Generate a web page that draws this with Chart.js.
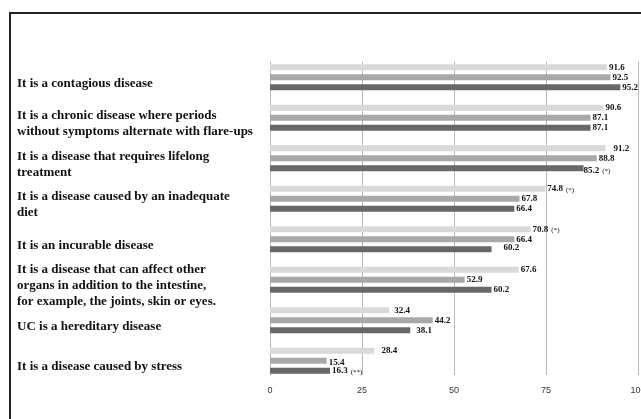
<!DOCTYPE html>
<html>
<head>
<meta charset="utf-8">
<script src="https://cdn.jsdelivr.net/npm/chart.js@4/dist/chart.umd.min.js"></script>
<style>
  html, body { margin: 0; padding: 0; background: #fff; overflow: hidden; }
  #wrap { position: relative; width: 641px; height: 419px; overflow: hidden; }
  #frame { position: absolute; left: 9px; top: 12px; width: 700px; height: 500px;
           border-left: 2px solid #222; border-top: 2px solid #222; pointer-events: none; }
  canvas { position: absolute; left: 0; top: 0; }
</style>
</head>
<body>
<div id="wrap">
  <canvas id="chart" width="660" height="419"></canvas>
  <div id="frame"></div>
</div>
<script>
const categories = [
  'It is a contagious disease',
  ['It is a chronic disease where periods', 'without symptoms alternate with flare-ups'],
  ['It is a disease that requires lifelong', 'treatment'],
  ['It is a disease caused by an inadequate', 'diet'],
  'It is an incurable disease',
  ['It is a disease that can affect other', 'organs in addition to the intestine,', 'for example, the joints, skin or eyes.'],
  'UC is a hereditary disease',
  'It is a disease caused by stress'
];

const seriesLight = [91.6, 90.6, 91.2, 74.8, 70.8, 67.6, 32.4, 28.4];
const seriesMid = [92.5, 87.1, 88.8, 67.8, 66.4, 52.9, 44.2, 15.4];
const seriesDark = [95.2, 87.1, 85.2, 66.4, 60.2, 60.2, 38.1, 16.3];

// significance marks printed after some values
const notesLight = ['', '', '', '(*)', '(*)', '', '', ''];
const notesMid = ['', '', '', '', '', '', '', ''];
const notesDark = ['', '', '(*)', '', '', '', '', '(**)'];

const xTicks = [0, 25, 50, 75, 100];

const SERIF = '"Liberation Serif", "Times New Roman", serif';

// small nudges so labels sit where the original put them
const labelNudge = {
  '0-2': [6, 0], '2-2': [-2, 2], '2-4': [10, -2], '0-6': [3, 0],
  '2-6': [4, 0], '0-7': [5, 0], '1-7': [0, 2]
};

const valueLabels = {
  id: 'valueLabels',
  afterDatasetsDraw(chart) {
    const ctx = chart.ctx;
    ctx.save();
    ctx.fillStyle = '#111';
    ctx.textBaseline = 'middle';
    chart.data.datasets.forEach((ds, di) => {
      chart.getDatasetMeta(di).data.forEach((bar, i) => {
        const nudge = labelNudge[di + '-' + i] || [0, 0];
        const x = bar.x + 2 + nudge[0];
        const y = bar.y + nudge[1];
        ctx.font = 'bold 9px ' + SERIF;
        ctx.textAlign = 'left';
        const txt = ds.data[i].toFixed(1);
        ctx.fillText(txt, x, y);
        const note = ds.notes[i];
        if (note) {
          const w = ctx.measureText(txt).width;
          ctx.font = '7px ' + SERIF;
          ctx.fillText(note, x + w + 3, y + 1);
        }
      });
    });
    ctx.restore();
  }
};

const gridLines = {
  id: 'gridLines',
  beforeDatasetsDraw(chart) {
    const ctx = chart.ctx;
    const xs = chart.scales.x;
    const area = chart.chartArea;
    ctx.save();
    ctx.strokeStyle = '#b8b8b8';
    ctx.lineWidth = 1;
    xTicks.forEach(v => {
      const px = Math.round(xs.getPixelForValue(v)) + 0.5;
      ctx.beginPath();
      ctx.moveTo(px, area.top + 5);
      ctx.lineTo(px, area.bottom - 6);
      ctx.stroke();
    });
    ctx.restore();
  }
};

const barOpts = { categoryPercentage: 0.74, barPercentage: 0.6 };

new Chart(document.getElementById('chart'), {
  type: 'bar',
  data: {
    labels: categories,
    datasets: [
      { label: 'Light', data: seriesLight, notes: notesLight, backgroundColor: '#d9d9d9', ...barOpts },
      { label: 'Mid', data: seriesMid, notes: notesMid, backgroundColor: '#a8a8a8', ...barOpts },
      { label: 'Dark', data: seriesDark, notes: notesDark, backgroundColor: '#686868', ...barOpts }
    ]
  },
  options: {
    indexAxis: 'y',
    responsive: false,
    animation: false,
    devicePixelRatio: 1,
    layout: { padding: { left: 17, top: 57, right: 22, bottom: 21 } },
    plugins: { legend: { display: false }, tooltip: { enabled: false } },
    scales: {
      x: {
        min: 0,
        max: 100,
        afterBuildTicks: s => { s.ticks = xTicks.map(v => ({ value: v })); },
        afterFit: s => { s.height = 17; },
        grid: { display: false, drawTicks: false },
        border: { display: false },
        ticks: { color: '#333', font: { size: 9, family: 'Arial, "Liberation Sans", sans-serif' }, padding: 4, maxRotation: 0 }
      },
      y: {
        grid: { display: false, drawTicks: false },
        border: { display: false },
        afterFit: s => { s.width = 253; },
        ticks: {
          autoSkip: false,
          crossAlign: 'far',
          labelOffset: 6,
          color: '#111',
          font: { size: 13, weight: 'bold', family: SERIF, lineHeight: 1.23 }
        }
      }
    }
  },
  plugins: [gridLines, valueLabels]
});
</script>
</body>
</html>
